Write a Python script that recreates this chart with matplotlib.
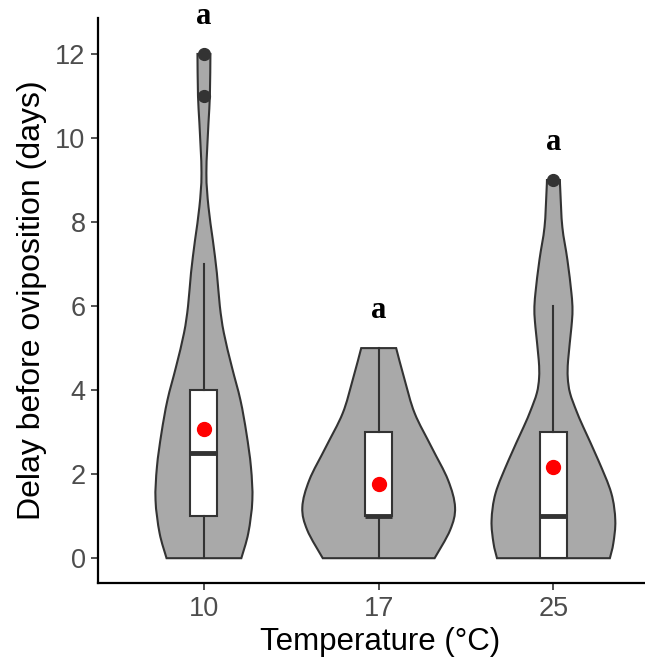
import matplotlib.pyplot as plt
import numpy as np
from matplotlib.path import Path
from matplotlib.patches import PathPatch

# temperatures (categories)
temps = ['10', '17', '25']

# violin outlines: y level (days) and half width (in category units)
v10_y = [0, 0.6, 1.38, 2.17, 2.98, 3.76, 4.55, 5.36, 6.0, 6.79, 7.57, 8.36, 9.17, 10.36, 11.0, 12.0]
v10_hw = [0.214, 0.254, 0.277, 0.269, 0.243, 0.209, 0.16, 0.114, 0.091, 0.074, 0.051, 0.026, 0.014, 0.026, 0.034, 0.037]
v17_y = [0, 0.67, 1.21, 1.86, 2.64, 3.45, 4.24, 5.0]
v17_hw = [0.32, 0.409, 0.437, 0.397, 0.303, 0.206, 0.149, 0.1]
v25_y = [0, 0.36, 0.9, 1.55, 2.33, 3.12, 3.5, 3.93, 4.3, 4.71, 5.5, 5.9, 6.31, 7.1, 7.88, 8.69, 9.0]
v25_hw = [0.323, 0.343, 0.354, 0.331, 0.257, 0.171, 0.132, 0.095, 0.082, 0.084, 0.103, 0.109, 0.103, 0.08, 0.051, 0.04, 0.037]

# boxplot summaries
q1 = [1, 1, 0]
med = [2.5, 1, 1]
q3 = [4, 3, 3]
whis_lo = [0, 0, 0]
whis_hi = [7, 5, 6]
outliers = [[11, 12], [], [9]]
means = [3.07, 1.76, 2.17]
letters = ['a', 'a', 'a']


def smooth_side(pts):
    # catmull-rom through the read points, as bezier segments
    verts, codes = [], []
    n = len(pts)
    for k in range(n - 1):
        p0 = pts[max(k - 1, 0)]
        p1 = pts[k]
        p2 = pts[k + 1]
        p3 = pts[min(k + 2, n - 1)]
        c1 = p1 + (p2 - p0) / 6.0
        c2 = p2 - (p3 - p1) / 6.0
        verts += [c1, c2, p2]
        codes += [Path.CURVE4] * 3
    return verts, codes


fig = plt.figure(figsize=(6.45, 6.65), dpi=100)
ax = fig.add_axes([0.152, 0.123, 0.874, 0.850])

violins = [(v10_y, v10_hw), (v17_y, v17_hw), (v25_y, v25_hw)]
for i, (vy, vhw) in enumerate(violins):
    pos = i + 1
    vy = np.array(vy, dtype=float)
    vhw = np.array(vhw, dtype=float)
    left = np.column_stack([pos - vhw, vy])
    right = np.column_stack([pos + vhw, vy])[::-1]
    verts = [left[0]]
    codes = [Path.MOVETO]
    v, c = smooth_side(left)
    verts += v
    codes += c
    verts.append(right[0])
    codes.append(Path.LINETO)
    v, c = smooth_side(right)
    verts += v
    codes += c
    verts.append(left[0])
    codes.append(Path.CLOSEPOLY)
    ax.add_patch(PathPatch(Path(verts, codes), facecolor='#a9a9a9', edgecolor='#333333',
                           linewidth=1.5, zorder=1))

stats = []
for i in range(3):
    stats.append({'q1': q1[i], 'med': med[i], 'q3': q3[i], 'whislo': whis_lo[i],
                  'whishi': whis_hi[i], 'fliers': outliers[i], 'mean': means[i]})

ax.bxp(stats, positions=[1, 2, 3], widths=0.154, patch_artist=True, showcaps=False,
       showmeans=True,
       boxprops=dict(facecolor='white', edgecolor='#333333', linewidth=1.5),
       medianprops=dict(color='#333333', linewidth=3.5),
       whiskerprops=dict(color='#333333', linewidth=1.5),
       flierprops=dict(marker='o', markerfacecolor='#333333', markeredgecolor='#333333', markersize=8.5),
       meanprops=dict(marker='o', markerfacecolor='red', markeredgecolor='red', markersize=10),
       zorder=2)

tops = [max(v10_y), max(v17_y), max(v25_y)]
for i in range(3):
    ax.text(i + 1, tops[i] + 0.9, letters[i], ha='center', va='center',
            family='Liberation Serif', fontweight='bold', fontsize=22, color='black')

ax.set_xlim(0.394, 3.62)
ax.set_ylim(-0.595, 12.857)
ax.set_xticks([1, 2, 3])
ax.set_xticklabels(temps)
ax.set_yticks([0, 2, 4, 6, 8, 10, 12])

for s in ['top', 'right']:
    ax.spines[s].set_visible(False)
ax.spines['left'].set_linewidth(1.6)
ax.spines['bottom'].set_linewidth(1.6)
ax.spines['left'].set_color('black')
ax.spines['bottom'].set_color('black')
ax.tick_params(axis='both', length=5, width=1.2, color='#333333', labelcolor='#4d4d4d',
               labelsize=19.5, pad=4)
for lab in ax.get_xticklabels() + ax.get_yticklabels():
    lab.set_family('Liberation Sans')

ax.set_xlabel('Temperature (°C)', family='Liberation Sans', fontsize=22.5, color='black', labelpad=4)
ax.set_ylabel('Delay before oviposition (days)', family='Liberation Sans', fontsize=23, color='black', labelpad=6)

fig.savefig('out.png', dpi=100)
